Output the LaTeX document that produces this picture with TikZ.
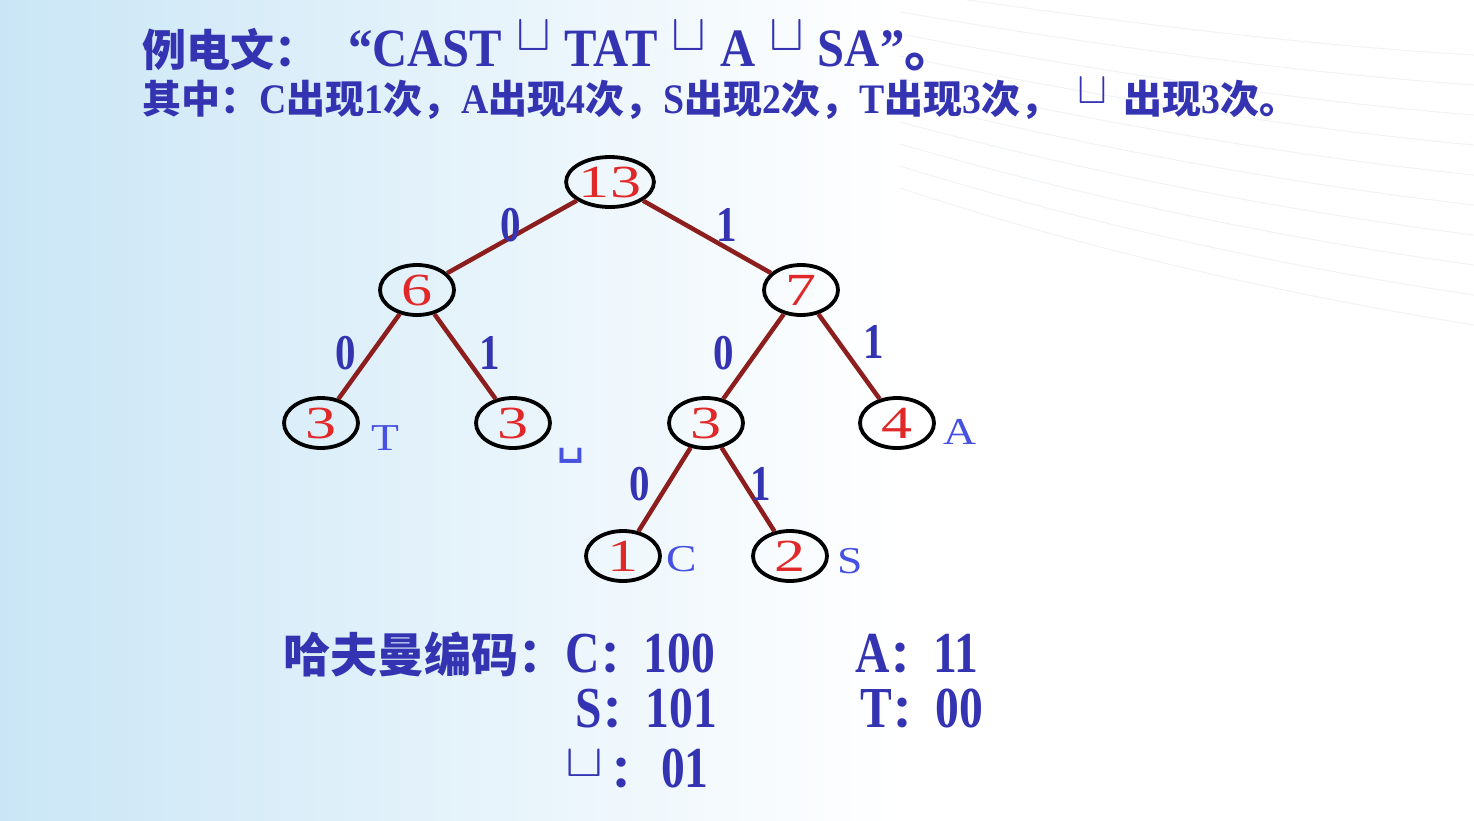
\documentclass[tikz,border=0pt]{standalone}
\usepackage{fontspec}
\setmainfont{Liberation Serif}[FakeStretch=0.82]
\newfontfamily\hdrf{Liberation Serif}[FakeStretch=0.9]
\newfontfamily\numf{Liberation Serif}[FakeStretch=1.35]
\newfontfamily\leaff{Liberation Serif}[FakeStretch=1.2]
\newfontfamily\cjk{Noto Sans CJK SC}
\newfontfamily\symmono{DejaVu Sans Mono}
\usetikzlibrary{shapes.geometric}
\definecolor{txtblue}{RGB}{52,52,178}
\definecolor{numred}{RGB}{225,40,40}
\definecolor{edgered}{RGB}{140,30,30}
\definecolor{lblblue}{RGB}{70,80,225}
\definecolor{bgblue}{RGB}{202,230,246}
\definecolor{wave}{RGB}{240,243,246}
\newcommand{\spcbox}[2]{\raisebox{#2}{\scalebox{#1}{\normalsize$\sqcup$}}}
\newcommand{\zc}{{\fontsize{44}{44}\selectfont\cjk ：}}
\newcommand{\zh}[1]{{\fontsize{39}{39}\selectfont\cjk #1}}
\tikzset{
  hdr/.style={inner sep=0pt, anchor=base west, text=txtblue},
  tnode/.style={ellipse, draw=black, line width=3.8pt, minimum width=74pt, minimum height=50pt, inner sep=0pt, text=numred, font=\fontsize{46}{46}\selectfont\numf},
  tedge/.style={draw=edgered, line width=4.5pt},
  elbl/.style={inner sep=0pt, text=txtblue, font=\fontsize{50}{50}\selectfont\bfseries},
  leaf/.style={inner sep=0pt, anchor=base west, text=lblblue, font=\fontsize{38}{38}\selectfont\leaff}
}
\begin{document}
\begin{tikzpicture}[x=1pt,y=-1pt]
\useasboundingbox (0,0) rectangle (1474,820);
\fill[white] (0,0) rectangle (1474,820);
\shade[left color=bgblue, right color=white, shading angle=90] (0,0) rectangle (900,820);
\foreach \k in {0,...,9}{
  \draw[wave, line width=1pt] (900,{-10+\k*22}) .. controls (1100,{20+\k*26}) and (1300,{45+\k*28}) .. (1474,{55+\k*30});
}
% header
\node[hdr, font=\fontsize{44}{44}\selectfont\cjk\bfseries] (l1a) at (142,66) {例电文：};
\node[hdr, font=\fontsize{54}{54}\selectfont\hdrf\bfseries] (l1b) at (348,66) {“CAST\hspace{14pt}\spcbox{5.2}{16pt}\hspace{14pt}TAT\hspace{14pt}\spcbox{5.2}{16pt}\hspace{14pt}A\hspace{14pt}\spcbox{5.2}{16pt}\hspace{14pt}SA”{\cjk 。}};
\node[hdr, font=\fontsize{42}{42}\selectfont\hdrf\bfseries] (l2) at (142,113) {\zh{其中：}C\zh{出现}1\zh{次，}A\zh{出现}4\zh{次，}S\zh{出现}2\zh{次，}T\zh{出现}3\zh{次，}\hspace{18pt}\spcbox{4.5}{10pt}\hspace{16pt}\zh{出现}3\zh{次。}};
% tree
\node[tnode] (n13) at (610,182) {13};
\node[tnode] (n6) at (417,290) {6};
\node[tnode] (n7) at (801,290) {7};
\node[tnode] (nT) at (321,423) {3};
\node[tnode] (nSp) at (513,423) {3};
\node[tnode] (n3) at (706,423) {3};
\node[tnode] (nA) at (897,423) {4};
\node[tnode] (nC) at (623,556) {1};
\node[tnode] (nS) at (790,556) {2};
\draw[tedge] (n13) -- (n6);
\draw[tedge] (n13) -- (n7);
\draw[tedge] (n6) -- (nT);
\draw[tedge] (n6) -- (nSp);
\draw[tedge] (n7) -- (n3);
\draw[tedge] (n7) -- (nA);
\draw[tedge] (n3) -- (nC);
\draw[tedge] (n3) -- (nS);
\node[elbl] (e1) at (511,225) {0};
\node[elbl] (e2) at (727,225) {1};
\node[elbl] (e3) at (346,353) {0};
\node[elbl] (e4) at (490,353) {1};
\node[elbl] (e5) at (724,353) {0};
\node[elbl] (e6) at (874,342) {1};
\node[elbl] (e7) at (640,484) {0};
\node[elbl] (e8) at (761,484) {1};
\node[leaf] (lT) at (371,450) {T};
\node[leaf, font=\fontsize{48}{48}\selectfont\symmono] (lSp) at (556,452) {␣};
\node[leaf] (lA) at (943,444) {A};
\node[leaf] (lC) at (666,571) {C};
\node[leaf] (lS) at (837,573) {S};
% codes
\node[hdr, font=\fontsize{47}{47}\selectfont\cjk\bfseries] (hc) at (283,672) {哈夫曼编码：};
\node[hdr, font=\fontsize{58}{58}\selectfont\bfseries] (cC) at (565,672) {C\zc 100};
\node[hdr, font=\fontsize{58}{58}\selectfont\bfseries] (cA) at (855,672) {A\zc 11};
\node[hdr, font=\fontsize{58}{58}\selectfont\bfseries] (cS) at (575,727) {S\zc 101};
\node[hdr, font=\fontsize{58}{58}\selectfont\bfseries] (cT) at (860,727) {T\zc 00};
\node[hdr, font=\fontsize{58}{58}\selectfont\bfseries] (cSp) at (565,787) {\raisebox{11pt}{\scalebox{5.7}[4.6]{\normalsize$\sqcup$}}\hspace{7pt}\zc\hspace{7pt}01};
\end{tikzpicture}
\end{document}
